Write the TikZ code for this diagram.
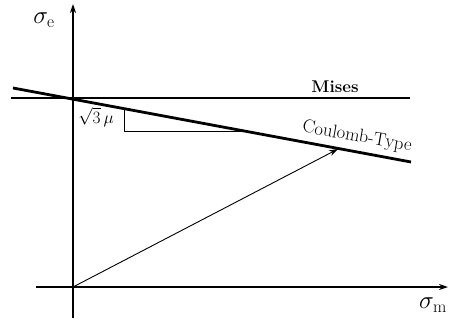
\documentclass[tikz,border=0pt]{standalone}
\usetikzlibrary{arrows.meta}
\begin{document}
\begin{tikzpicture}[x=1pt,y=-1pt,font=\fontsize{15}{18}\selectfont]
      \useasboundingbox (0,0) rectangle (449,324);
      % axes
      \coordinate (O) at (73,287);
      \coordinate (xs) at (36,287);
      \coordinate (xe) at (448,287);
      \coordinate (ys) at (73,318);
      \coordinate (ye) at (73,4);
      \draw[line width=1.4pt, -{Stealth[length=9pt,width=6pt]}] (xs) -- (xe);
      \draw[line width=1.4pt, -{Stealth[length=9pt,width=6pt]}] (ys) -- (ye);
      \node (se) at (44,20) {\fontsize{24}{26}\selectfont$\sigma_{\mathrm e}$};
      \node (sm) at (433,305) {\fontsize{24}{26}\selectfont$\sigma_{\mathrm m}$};
      % Mises
      \coordinate (m1) at (11,98);
      \coordinate (m2) at (410,98);
      \draw[line width=2.8pt] (m1) -- (m2);
      \node[inner sep=1pt,font=\fontsize{17}{19}\selectfont\bfseries] (mises) at (335,87) {Mises};
      % Coulomb
      \coordinate (c1) at (13,88);
      \coordinate (c2) at (411,162);
      \draw[line width=2.8pt] (c1) -- (c2);
      \node[inner sep=0pt,rotate=-10,font=\fontsize{18.5}{20}\selectfont] (ct) at (357,137) {Coulomb-Type};
      % slope triangle
      \coordinate (t1) at (124,108.6);
      \coordinate (t2) at (124,131);
      \coordinate (t3) at (245,131);
      \draw[line width=0.8pt] (t1) -- (t2) -- (t3);
      \node[font=\fontsize{17}{19}\selectfont] (mu) at (96,117) {$\sqrt{3}\,\mu$};
      % load path
      \coordinate (P) at (338,149);
      \draw[line width=0.9pt, -{Stealth[length=9pt,width=6pt]}] (O) -- (P);
    \end{tikzpicture}
\end{document}
